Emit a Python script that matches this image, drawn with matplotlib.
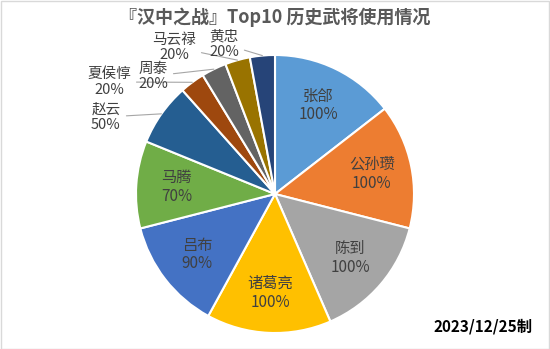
import numpy as np
import matplotlib
matplotlib.use('Agg')
import matplotlib.pyplot as plt
from matplotlib.patches import Rectangle

plt.rcParams['font.family'] = ['Noto Sans CJK SC', 'DejaVu Sans']

# data
names = ['张郃', '公孙瓒', '陈到', '诸葛亮', '吕布', '马腾', '赵云', '夏侯惇', '周泰', '马云禄', '黄忠']
values = [100, 100, 100, 100, 90, 70, 50, 20, 20, 20, 20]
colors = ['#5B9BD5', '#ED7D31', '#A5A5A5', '#FFC000', '#4472C4', '#70AD47',
          '#255E91', '#9E480E', '#636363', '#997300', '#264478']
title = '『汉中之战』Top10 历史武将使用情况'
note = '2023/12/25制'

# label positions for the small slices (pixel coords, y from top)
outside_pos = {'赵云': (106, 117), '夏侯惇': (109, 82), '周泰': (153, 76),
               '马云禄': (174, 47), '黄忠': (224, 44)}

W, H = 550, 349
fig = plt.figure(figsize=(W / 100, H / 100), dpi=100)
ax = fig.add_axes([0, 0, 1, 1])

cx, cy, R = 275, H - 194, 139
wedges, _ = ax.pie(values, colors=colors, startangle=90, counterclock=False,
                   center=(cx, cy), radius=R, frame=True,
                   wedgeprops=dict(edgecolor='white', linewidth=1.5))
ax.set_xlim(0, W)
ax.set_ylim(0, H)
ax.set_aspect('equal')
ax.axis('off')

for w, name, v in zip(wedges, names, values):
    ang = np.deg2rad((w.theta1 + w.theta2) / 2)
    txt = f'{name}\n{v}%'
    if name in outside_pos:
        px, py = outside_pos[name]
        ax.annotate(txt, xy=(cx + R * np.cos(ang), cy + R * np.sin(ang)),
                    xytext=(px, H - py), ha='center', va='center',
                    fontsize=10.5, color='#404040', linespacing=1.1,
                    arrowprops=dict(arrowstyle='-', color='#A6A6A6', lw=0.8,
                                    shrinkA=2, shrinkB=0))
    else:
        r = 0.71 * R
        ax.text(cx + r * np.cos(ang), cy + r * np.sin(ang), txt,
                ha='center', va='center', fontsize=11, color='#404040',
                linespacing=1.15)

fig.text(0.5, 1 - 17 / H, title, ha='center', va='center', fontsize=13,
         fontweight='bold', color='#595959')
fig.text(1 - 18 / W, 1 - 327 / H, note, ha='right', va='center', fontsize=11,
         fontweight='bold', color='black')

fig.patches.append(Rectangle((0.5 / W, 0.5 / H), 1 - 1.5 / W, 1 - 1.5 / H,
                             transform=fig.transFigure, fill=False,
                             edgecolor='#D9D9D9', lw=1))

fig.savefig('out.png', dpi=100)
